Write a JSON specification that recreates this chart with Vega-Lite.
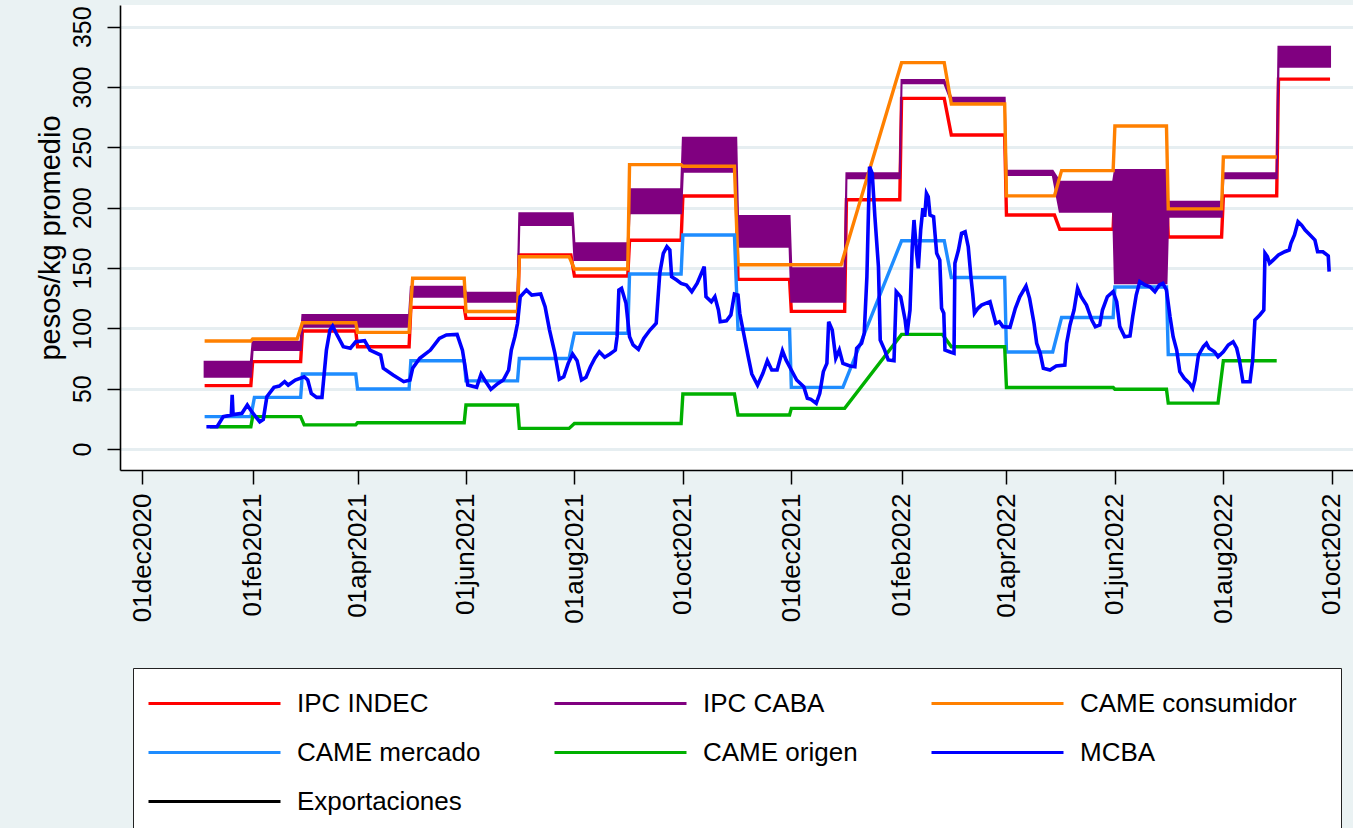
{
  "$schema": "https://vega.github.io/schema/vega-lite/v6.json",
  "width": 1233,
  "height": 465,
  "autosize": {"type": "none"},
  "padding": {"left": 120, "top": 5, "right": 0, "bottom": 358},
  "background": "#EAF2F3",
  "config": {
    "view": {"fill": "white", "stroke": null},
    "font": "Liberation Sans",
    "axis": {
      "labelFont": "Liberation Sans",
      "titleFont": "Liberation Sans",
      "labelColor": "#000000",
      "titleColor": "#000000",
      "domainColor": "#000000",
      "tickColor": "#000000",
      "domainWidth": 1.6,
      "tickWidth": 1.5,
      "titleFontWeight": "normal"
    }
  },
  "data": {
    "values": [
      {"s":"IPC INDEC","d":"2021-01-05","v":52.5},{"s":"IPC INDEC","d":"2021-01-31","v":52.5},
      {"s":"IPC INDEC","d":"2021-02-01","v":72.4},{"s":"IPC INDEC","d":"2021-02-28","v":72.4},
      {"s":"IPC INDEC","d":"2021-03-01","v":97.8},{"s":"IPC INDEC","d":"2021-03-31","v":97.8},
      {"s":"IPC INDEC","d":"2021-04-01","v":84.8},{"s":"IPC INDEC","d":"2021-04-30","v":84.8},
      {"s":"IPC INDEC","d":"2021-05-01","v":117.4},{"s":"IPC INDEC","d":"2021-05-31","v":117.4},
      {"s":"IPC INDEC","d":"2021-06-01","v":108.3},{"s":"IPC INDEC","d":"2021-06-30","v":108.3},
      {"s":"IPC INDEC","d":"2021-07-01","v":160.8},{"s":"IPC INDEC","d":"2021-07-30","v":160.8},
      {"s":"IPC INDEC","d":"2021-08-01","v":143.4},{"s":"IPC INDEC","d":"2021-08-31","v":143.4},
      {"s":"IPC INDEC","d":"2021-09-01","v":173},{"s":"IPC INDEC","d":"2021-09-30","v":173},
      {"s":"IPC INDEC","d":"2021-10-01","v":209.7},{"s":"IPC INDEC","d":"2021-10-31","v":209.7},
      {"s":"IPC INDEC","d":"2021-11-01","v":140.6},{"s":"IPC INDEC","d":"2021-11-30","v":140.6},
      {"s":"IPC INDEC","d":"2021-12-01","v":114.1},{"s":"IPC INDEC","d":"2021-12-31","v":114.1},
      {"s":"IPC INDEC","d":"2022-01-01","v":206.6},{"s":"IPC INDEC","d":"2022-01-31","v":206.6},
      {"s":"IPC INDEC","d":"2022-02-01","v":290.6},{"s":"IPC INDEC","d":"2022-02-25","v":290.6},
      {"s":"IPC INDEC","d":"2022-03-01","v":260.2},{"s":"IPC INDEC","d":"2022-03-31","v":260.2},
      {"s":"IPC INDEC","d":"2022-04-01","v":193.9},{"s":"IPC INDEC","d":"2022-04-28","v":193.9},
      {"s":"IPC INDEC","d":"2022-05-01","v":182.1},{"s":"IPC INDEC","d":"2022-05-31","v":182.1},
      {"s":"IPC INDEC","d":"2022-06-01","v":218.5},{"s":"IPC INDEC","d":"2022-06-30","v":218.5},
      {"s":"IPC INDEC","d":"2022-07-01","v":175.7},{"s":"IPC INDEC","d":"2022-07-31","v":175.7},
      {"s":"IPC INDEC","d":"2022-08-01","v":209.8},{"s":"IPC INDEC","d":"2022-08-31","v":209.8},
      {"s":"IPC INDEC","d":"2022-09-01","v":306.6},{"s":"IPC INDEC","d":"2022-09-30","v":306.6},

      {"s":"IPC CABA","d":"2021-01-05","v":59.9,"hi":72.4},{"s":"IPC CABA","d":"2021-01-31","v":59.9,"hi":72.4},
      {"s":"IPC CABA","d":"2021-02-01","v":82,"hi":88.9},{"s":"IPC CABA","d":"2021-02-28","v":82,"hi":88.9},
      {"s":"IPC CABA","d":"2021-03-01","v":101.4,"hi":111},{"s":"IPC CABA","d":"2021-04-30","v":101.4,"hi":111},
      {"s":"IPC CABA","d":"2021-05-01","v":126.2,"hi":134.5},{"s":"IPC CABA","d":"2021-05-31","v":126.2,"hi":134.5},
      {"s":"IPC CABA","d":"2021-06-01","v":122.1,"hi":129.5},{"s":"IPC CABA","d":"2021-06-30","v":122.1,"hi":129.5},
      {"s":"IPC CABA","d":"2021-07-01","v":185.6,"hi":195.3},{"s":"IPC CABA","d":"2021-07-31","v":185.6,"hi":195.3},
      {"s":"IPC CABA","d":"2021-08-01","v":156.6,"hi":170.5},{"s":"IPC CABA","d":"2021-08-31","v":156.6,"hi":170.5},
      {"s":"IPC CABA","d":"2021-09-01","v":195.3,"hi":215.2},{"s":"IPC CABA","d":"2021-09-30","v":195.3,"hi":215.2},
      {"s":"IPC CABA","d":"2021-10-01","v":229.8,"hi":258},{"s":"IPC CABA","d":"2021-10-31","v":229.8,"hi":258},
      {"s":"IPC CABA","d":"2021-11-01","v":167.7,"hi":193.1},{"s":"IPC CABA","d":"2021-11-30","v":167.7,"hi":193.1},
      {"s":"IPC CABA","d":"2021-12-01","v":122.1,"hi":149.8},{"s":"IPC CABA","d":"2021-12-31","v":122.1,"hi":149.8},
      {"s":"IPC CABA","d":"2022-01-01","v":224.4,"hi":228.5},{"s":"IPC CABA","d":"2022-01-31","v":224.4,"hi":228.5},
      {"s":"IPC CABA","d":"2022-02-01","v":303.1,"hi":305.8},{"s":"IPC CABA","d":"2022-02-25","v":303.1,"hi":305.8},
      {"s":"IPC CABA","d":"2022-03-01","v":287.8,"hi":291.2},{"s":"IPC CABA","d":"2022-03-31","v":287.8,"hi":291.2},
      {"s":"IPC CABA","d":"2022-04-01","v":227.1,"hi":230.7},{"s":"IPC CABA","d":"2022-04-27","v":227.1,"hi":230.7},
      {"s":"IPC CABA","d":"2022-05-01","v":196.7,"hi":221.5},{"s":"IPC CABA","d":"2022-05-31","v":196.7,"hi":221.5},
      {"s":"IPC CABA","d":"2022-06-01","v":137.3,"hi":231.2},{"s":"IPC CABA","d":"2022-06-30","v":137.3,"hi":231.2},
      {"s":"IPC CABA","d":"2022-07-01","v":192.5,"hi":204.9},{"s":"IPC CABA","d":"2022-07-31","v":192.5,"hi":204.9},
      {"s":"IPC CABA","d":"2022-08-01","v":224.4,"hi":228.5},{"s":"IPC CABA","d":"2022-08-31","v":224.4,"hi":228.5},
      {"s":"IPC CABA","d":"2022-09-01","v":316.8,"hi":333.4},{"s":"IPC CABA","d":"2022-09-30","v":316.8,"hi":333.4},

      {"s":"CAME consumidor","d":"2021-01-05","v":89.5},{"s":"CAME consumidor","d":"2021-01-31","v":89.5},
      {"s":"CAME consumidor","d":"2021-02-01","v":91.2},{"s":"CAME consumidor","d":"2021-02-26","v":91.2},
      {"s":"CAME consumidor","d":"2021-03-01","v":104.7},{"s":"CAME consumidor","d":"2021-03-31","v":104.7},
      {"s":"CAME consumidor","d":"2021-04-01","v":96.7},{"s":"CAME consumidor","d":"2021-04-30","v":96.7},
      {"s":"CAME consumidor","d":"2021-05-02","v":141.5},{"s":"CAME consumidor","d":"2021-05-31","v":141.5},
      {"s":"CAME consumidor","d":"2021-06-01","v":114},{"s":"CAME consumidor","d":"2021-06-30","v":114},
      {"s":"CAME consumidor","d":"2021-07-01","v":159.4},{"s":"CAME consumidor","d":"2021-07-29","v":159.4},
      {"s":"CAME consumidor","d":"2021-08-01","v":149.2},{"s":"CAME consumidor","d":"2021-08-31","v":149.2},
      {"s":"CAME consumidor","d":"2021-09-01","v":235.7},{"s":"CAME consumidor","d":"2021-09-30","v":235.7},
      {"s":"CAME consumidor","d":"2021-10-01","v":234.3},{"s":"CAME consumidor","d":"2021-10-30","v":234.3},
      {"s":"CAME consumidor","d":"2021-11-01","v":152.7},{"s":"CAME consumidor","d":"2021-12-29","v":152.7},
      {"s":"CAME consumidor","d":"2022-02-01","v":320.2},{"s":"CAME consumidor","d":"2022-02-25","v":320.2},
      {"s":"CAME consumidor","d":"2022-03-01","v":285.9},{"s":"CAME consumidor","d":"2022-03-31","v":285.9},
      {"s":"CAME consumidor","d":"2022-04-01","v":209.8},{"s":"CAME consumidor","d":"2022-04-28","v":209.8},
      {"s":"CAME consumidor","d":"2022-05-02","v":230.7},{"s":"CAME consumidor","d":"2022-05-31","v":230.7},
      {"s":"CAME consumidor","d":"2022-06-01","v":267.7},{"s":"CAME consumidor","d":"2022-06-30","v":267.7},
      {"s":"CAME consumidor","d":"2022-07-01","v":199},{"s":"CAME consumidor","d":"2022-07-31","v":199},
      {"s":"CAME consumidor","d":"2022-08-01","v":242},{"s":"CAME consumidor","d":"2022-08-31","v":242},

      {"s":"CAME mercado","d":"2021-01-05","v":26.8},{"s":"CAME mercado","d":"2021-01-31","v":26.8},
      {"s":"CAME mercado","d":"2021-02-02","v":42.8},{"s":"CAME mercado","d":"2021-02-28","v":42.8},
      {"s":"CAME mercado","d":"2021-03-01","v":62.2},{"s":"CAME mercado","d":"2021-03-31","v":62.2},
      {"s":"CAME mercado","d":"2021-04-01","v":49.7},{"s":"CAME mercado","d":"2021-04-30","v":49.7},
      {"s":"CAME mercado","d":"2021-05-01","v":73.2},{"s":"CAME mercado","d":"2021-05-31","v":73.2},
      {"s":"CAME mercado","d":"2021-06-01","v":56.5},{"s":"CAME mercado","d":"2021-06-30","v":56.5},
      {"s":"CAME mercado","d":"2021-07-01","v":75},{"s":"CAME mercado","d":"2021-07-29","v":75},
      {"s":"CAME mercado","d":"2021-08-01","v":96},{"s":"CAME mercado","d":"2021-08-31","v":96},
      {"s":"CAME mercado","d":"2021-09-01","v":145},{"s":"CAME mercado","d":"2021-09-30","v":145},
      {"s":"CAME mercado","d":"2021-10-01","v":177.4},{"s":"CAME mercado","d":"2021-10-30","v":177.4},
      {"s":"CAME mercado","d":"2021-11-01","v":99.3},{"s":"CAME mercado","d":"2021-11-30","v":99.3},
      {"s":"CAME mercado","d":"2021-12-01","v":51.1},{"s":"CAME mercado","d":"2021-12-30","v":51.1},
      {"s":"CAME mercado","d":"2022-02-01","v":172.6},{"s":"CAME mercado","d":"2022-02-25","v":172.6},
      {"s":"CAME mercado","d":"2022-03-01","v":142.2},{"s":"CAME mercado","d":"2022-03-31","v":142.2},
      {"s":"CAME mercado","d":"2022-04-01","v":80.4},{"s":"CAME mercado","d":"2022-04-27","v":80.4},
      {"s":"CAME mercado","d":"2022-05-02","v":109},{"s":"CAME mercado","d":"2022-05-31","v":109},
      {"s":"CAME mercado","d":"2022-06-01","v":134.3},{"s":"CAME mercado","d":"2022-06-30","v":134.3},
      {"s":"CAME mercado","d":"2022-07-01","v":78.2},{"s":"CAME mercado","d":"2022-07-31","v":78.2},

      {"s":"CAME origen","d":"2021-01-08","v":18.5},{"s":"CAME origen","d":"2021-01-31","v":18.5},
      {"s":"CAME origen","d":"2021-02-01","v":26.8},{"s":"CAME origen","d":"2021-02-28","v":26.8},
      {"s":"CAME origen","d":"2021-03-02","v":20},{"s":"CAME origen","d":"2021-03-31","v":20},
      {"s":"CAME origen","d":"2021-04-01","v":21.8},{"s":"CAME origen","d":"2021-05-31","v":21.8},
      {"s":"CAME origen","d":"2021-06-01","v":36.5},{"s":"CAME origen","d":"2021-06-30","v":36.5},
      {"s":"CAME origen","d":"2021-07-01","v":17.1},{"s":"CAME origen","d":"2021-07-29","v":17.1},
      {"s":"CAME origen","d":"2021-08-01","v":21.2},{"s":"CAME origen","d":"2021-09-30","v":21.2},
      {"s":"CAME origen","d":"2021-10-01","v":45.6},{"s":"CAME origen","d":"2021-10-30","v":45.6},
      {"s":"CAME origen","d":"2021-11-01","v":28.2},{"s":"CAME origen","d":"2021-11-30","v":28.2},
      {"s":"CAME origen","d":"2021-12-01","v":33.7},{"s":"CAME origen","d":"2021-12-31","v":33.7},
      {"s":"CAME origen","d":"2022-02-01","v":95},{"s":"CAME origen","d":"2022-02-24","v":95},
      {"s":"CAME origen","d":"2022-03-01","v":84.8},{"s":"CAME origen","d":"2022-03-31","v":84.8},
      {"s":"CAME origen","d":"2022-04-01","v":51},{"s":"CAME origen","d":"2022-05-31","v":51},
      {"s":"CAME origen","d":"2022-06-01","v":49.5},{"s":"CAME origen","d":"2022-06-30","v":49.5},
      {"s":"CAME origen","d":"2022-07-01","v":38},{"s":"CAME origen","d":"2022-07-29","v":38},
      {"s":"CAME origen","d":"2022-08-01","v":73.2},{"s":"CAME origen","d":"2022-08-31","v":73.2},

      {"s":"MCBA","d":"2021-01-06","v":18.5},{"s":"MCBA","d":"2021-01-12","v":18.5},{"s":"MCBA","d":"2021-01-15T12:00Z","v":26.8},
      {"s":"MCBA","d":"2021-01-20","v":28.2},{"s":"MCBA","d":"2021-01-20T12:00Z","v":44.8},{"s":"MCBA","d":"2021-01-21","v":28.5},
      {"s":"MCBA","d":"2021-01-26","v":29.6},{"s":"MCBA","d":"2021-01-29","v":36.5},{"s":"MCBA","d":"2021-01-31T12:00Z","v":30.9},
      {"s":"MCBA","d":"2021-02-05","v":22.6},{"s":"MCBA","d":"2021-02-07","v":24.6},{"s":"MCBA","d":"2021-02-09","v":43.3},
      {"s":"MCBA","d":"2021-02-13","v":51.1},{"s":"MCBA","d":"2021-02-16","v":52.2},{"s":"MCBA","d":"2021-02-19","v":55.8},
      {"s":"MCBA","d":"2021-02-21","v":53},{"s":"MCBA","d":"2021-02-25","v":57.2},
      {"s":"MCBA","d":"2021-03-02","v":59.9},{"s":"MCBA","d":"2021-03-04","v":57.2},{"s":"MCBA","d":"2021-03-06","v":46.1},
      {"s":"MCBA","d":"2021-03-09","v":42.8},{"s":"MCBA","d":"2021-03-12","v":42.8},{"s":"MCBA","d":"2021-03-14T12:00Z","v":82},
      {"s":"MCBA","d":"2021-03-16T12:00Z","v":98.6},{"s":"MCBA","d":"2021-03-18","v":101.9},{"s":"MCBA","d":"2021-03-20","v":95.9},
      {"s":"MCBA","d":"2021-03-24","v":84.8},{"s":"MCBA","d":"2021-03-28","v":83.5},{"s":"MCBA","d":"2021-03-31","v":88.9},
      {"s":"MCBA","d":"2021-04-05","v":89.8},{"s":"MCBA","d":"2021-04-08","v":82},{"s":"MCBA","d":"2021-04-14","v":77.9},
      {"s":"MCBA","d":"2021-04-15T12:00Z","v":66.9},{"s":"MCBA","d":"2021-04-21","v":61.3},{"s":"MCBA","d":"2021-04-27","v":55.8},
      {"s":"MCBA","d":"2021-04-30T12:00Z","v":57.2},
      {"s":"MCBA","d":"2021-05-02","v":66.9},{"s":"MCBA","d":"2021-05-06","v":75.2},{"s":"MCBA","d":"2021-05-12","v":82},
      {"s":"MCBA","d":"2021-05-17","v":91.7},{"s":"MCBA","d":"2021-05-21","v":94.5},{"s":"MCBA","d":"2021-05-27","v":95},
      {"s":"MCBA","d":"2021-05-30","v":82},{"s":"MCBA","d":"2021-05-31T12:00Z","v":68.2},
      {"s":"MCBA","d":"2021-06-02","v":53},{"s":"MCBA","d":"2021-06-07","v":51.1},{"s":"MCBA","d":"2021-06-09T12:00Z","v":62.2},
      {"s":"MCBA","d":"2021-06-11T12:00Z","v":57.2},{"s":"MCBA","d":"2021-06-15","v":49.5},{"s":"MCBA","d":"2021-06-19","v":54.4},
      {"s":"MCBA","d":"2021-06-22","v":57.2},{"s":"MCBA","d":"2021-06-25","v":65.5},{"s":"MCBA","d":"2021-06-26T12:00Z","v":82},
      {"s":"MCBA","d":"2021-06-28T12:00Z","v":93.1},{"s":"MCBA","d":"2021-06-30","v":104.2},
      {"s":"MCBA","d":"2021-07-01T12:00Z","v":126.2},{"s":"MCBA","d":"2021-07-05","v":131.8},{"s":"MCBA","d":"2021-07-08","v":127.6},
      {"s":"MCBA","d":"2021-07-13","v":128.5},{"s":"MCBA","d":"2021-07-15T12:00Z","v":117.9},{"s":"MCBA","d":"2021-07-18","v":98.6},
      {"s":"MCBA","d":"2021-07-21","v":79.3},{"s":"MCBA","d":"2021-07-23T12:00Z","v":57.8},{"s":"MCBA","d":"2021-07-26","v":59.9},
      {"s":"MCBA","d":"2021-07-28T12:00Z","v":71},{"s":"MCBA","d":"2021-07-31","v":78.7},
      {"s":"MCBA","d":"2021-08-02T12:00Z","v":73.2},{"s":"MCBA","d":"2021-08-05","v":57.2},{"s":"MCBA","d":"2021-08-07T12:00Z","v":59.4},
      {"s":"MCBA","d":"2021-08-10","v":68.2},{"s":"MCBA","d":"2021-08-12T12:00Z","v":75.2},{"s":"MCBA","d":"2021-08-15","v":80.6},
      {"s":"MCBA","d":"2021-08-18","v":76},{"s":"MCBA","d":"2021-08-21","v":78.7},{"s":"MCBA","d":"2021-08-24","v":82},
      {"s":"MCBA","d":"2021-08-25","v":93.1},{"s":"MCBA","d":"2021-08-26","v":131.8},{"s":"MCBA","d":"2021-08-27T12:00Z","v":133.2},
      {"s":"MCBA","d":"2021-08-30","v":120.8},
      {"s":"MCBA","d":"2021-09-01","v":93.1},{"s":"MCBA","d":"2021-09-03","v":86.2},{"s":"MCBA","d":"2021-09-06","v":82.6},
      {"s":"MCBA","d":"2021-09-09","v":91.7},{"s":"MCBA","d":"2021-09-12T12:00Z","v":98.6},{"s":"MCBA","d":"2021-09-16","v":104.2},
      {"s":"MCBA","d":"2021-09-18","v":145.6},{"s":"MCBA","d":"2021-09-20","v":162.2},{"s":"MCBA","d":"2021-09-22","v":167.7},
      {"s":"MCBA","d":"2021-09-23T16:00Z","v":164.9},{"s":"MCBA","d":"2021-09-24T16:00Z","v":142.8},{"s":"MCBA","d":"2021-09-27T12:00Z","v":140.1},
      {"s":"MCBA","d":"2021-09-30","v":137.3},
      {"s":"MCBA","d":"2021-10-03","v":135.9},{"s":"MCBA","d":"2021-10-06","v":130.4},{"s":"MCBA","d":"2021-10-09","v":137.3},
      {"s":"MCBA","d":"2021-10-13","v":151.1},{"s":"MCBA","d":"2021-10-14","v":126.2},{"s":"MCBA","d":"2021-10-17","v":122.1},
      {"s":"MCBA","d":"2021-10-19","v":126.2},{"s":"MCBA","d":"2021-10-21","v":115.2},{"s":"MCBA","d":"2021-10-22","v":105.5},
      {"s":"MCBA","d":"2021-10-25T12:00Z","v":106.3},{"s":"MCBA","d":"2021-10-28","v":111.1},{"s":"MCBA","d":"2021-10-30","v":128.5},
      {"s":"MCBA","d":"2021-11-01","v":127.6},{"s":"MCBA","d":"2021-11-02","v":112.5},{"s":"MCBA","d":"2021-11-04","v":97.2},
      {"s":"MCBA","d":"2021-11-06T18:00Z","v":76.5},{"s":"MCBA","d":"2021-11-08T18:00Z","v":62.2},{"s":"MCBA","d":"2021-11-12","v":53},
      {"s":"MCBA","d":"2021-11-15","v":62.7},{"s":"MCBA","d":"2021-11-17T12:00Z","v":73.2},{"s":"MCBA","d":"2021-11-20","v":65.5},
      {"s":"MCBA","d":"2021-11-23","v":65.5},{"s":"MCBA","d":"2021-11-26","v":81.5},{"s":"MCBA","d":"2021-11-28","v":73.8},
      {"s":"MCBA","d":"2021-12-01","v":65.5},{"s":"MCBA","d":"2021-12-04","v":57.2},{"s":"MCBA","d":"2021-12-08","v":51.6},
      {"s":"MCBA","d":"2021-12-10","v":42},{"s":"MCBA","d":"2021-12-12","v":41.2},{"s":"MCBA","d":"2021-12-15","v":37.9},
      {"s":"MCBA","d":"2021-12-17","v":46.1},{"s":"MCBA","d":"2021-12-19","v":64.1},{"s":"MCBA","d":"2021-12-21","v":71},
      {"s":"MCBA","d":"2021-12-22","v":105.5},{"s":"MCBA","d":"2021-12-24","v":98.6},{"s":"MCBA","d":"2021-12-26","v":75.2},
      {"s":"MCBA","d":"2021-12-28","v":82},{"s":"MCBA","d":"2021-12-30","v":71},
      {"s":"MCBA","d":"2022-01-03","v":68.8},{"s":"MCBA","d":"2022-01-05T18:00Z","v":68.2},{"s":"MCBA","d":"2022-01-06T18:00Z","v":83.5},
      {"s":"MCBA","d":"2022-01-09T12:00Z","v":87.6},{"s":"MCBA","d":"2022-01-11","v":95.9},{"s":"MCBA","d":"2022-01-12T12:00Z","v":142.8},
      {"s":"MCBA","d":"2022-01-14","v":234},{"s":"MCBA","d":"2022-01-15T12:00Z","v":228.5},{"s":"MCBA","d":"2022-01-17","v":192.5},
      {"s":"MCBA","d":"2022-01-19","v":151.1},{"s":"MCBA","d":"2022-01-20","v":90.3},{"s":"MCBA","d":"2022-01-22T12:00Z","v":82},
      {"s":"MCBA","d":"2022-01-24T12:00Z","v":73.8},{"s":"MCBA","d":"2022-01-27T18:00Z","v":73.2},{"s":"MCBA","d":"2022-01-29","v":130.4},
      {"s":"MCBA","d":"2022-01-31T12:00Z","v":126.2},
      {"s":"MCBA","d":"2022-02-03","v":106.9},{"s":"MCBA","d":"2022-02-04","v":94.5},{"s":"MCBA","d":"2022-02-05T18:00Z","v":115.2},
      {"s":"MCBA","d":"2022-02-07","v":167.7},{"s":"MCBA","d":"2022-02-08","v":189.8},{"s":"MCBA","d":"2022-02-09T12:00Z","v":162.2},
      {"s":"MCBA","d":"2022-02-10T10:00Z","v":149.8},{"s":"MCBA","d":"2022-02-11T18:00Z","v":181.5},{"s":"MCBA","d":"2022-02-13","v":199.5},
      {"s":"MCBA","d":"2022-02-14","v":192.5},{"s":"MCBA","d":"2022-02-15","v":211.9},{"s":"MCBA","d":"2022-02-16","v":209.1},
      {"s":"MCBA","d":"2022-02-17","v":193.9},{"s":"MCBA","d":"2022-02-19","v":192.5},{"s":"MCBA","d":"2022-02-20T18:00Z","v":162.2},
      {"s":"MCBA","d":"2022-02-22T12:00Z","v":156.6},{"s":"MCBA","d":"2022-02-23T12:00Z","v":116.6},{"s":"MCBA","d":"2022-02-24T18:00Z","v":112.5},
      {"s":"MCBA","d":"2022-02-25T10:00Z","v":82},{"s":"MCBA","d":"2022-02-28","v":80.6},
      {"s":"MCBA","d":"2022-03-02T12:00Z","v":79.3},{"s":"MCBA","d":"2022-03-03","v":153.9},{"s":"MCBA","d":"2022-03-05","v":164.9},
      {"s":"MCBA","d":"2022-03-06T18:00Z","v":178.8},{"s":"MCBA","d":"2022-03-08T18:00Z","v":180.1},{"s":"MCBA","d":"2022-03-10T12:00Z","v":167.7},
      {"s":"MCBA","d":"2022-03-12","v":142.8},{"s":"MCBA","d":"2022-03-13","v":129},{"s":"MCBA","d":"2022-03-14","v":112.5},
      {"s":"MCBA","d":"2022-03-16","v":116.6},{"s":"MCBA","d":"2022-03-18","v":119.3},{"s":"MCBA","d":"2022-03-22T18:00Z","v":122.1},
      {"s":"MCBA","d":"2022-03-24T12:00Z","v":112.5},{"s":"MCBA","d":"2022-03-26","v":104.2},{"s":"MCBA","d":"2022-03-28","v":105.5},
      {"s":"MCBA","d":"2022-03-30","v":101.4},
      {"s":"MCBA","d":"2022-04-03","v":100.9},{"s":"MCBA","d":"2022-04-06","v":116.6},{"s":"MCBA","d":"2022-04-08T12:00Z","v":126.2},
      {"s":"MCBA","d":"2022-04-12","v":135.1},{"s":"MCBA","d":"2022-04-14","v":124.9},{"s":"MCBA","d":"2022-04-16T12:00Z","v":104.2},
      {"s":"MCBA","d":"2022-04-18","v":87.6},{"s":"MCBA","d":"2022-04-20","v":79.3},{"s":"MCBA","d":"2022-04-21T18:00Z","v":66.9},
      {"s":"MCBA","d":"2022-04-25T12:00Z","v":65.5},{"s":"MCBA","d":"2022-04-29","v":68.8},
      {"s":"MCBA","d":"2022-05-03T20:00Z","v":69.6},{"s":"MCBA","d":"2022-05-04T20:00Z","v":87.6},{"s":"MCBA","d":"2022-05-06T18:00Z","v":102.8},
      {"s":"MCBA","d":"2022-05-09","v":115.2},{"s":"MCBA","d":"2022-05-11","v":133.2},{"s":"MCBA","d":"2022-05-13","v":126.2},
      {"s":"MCBA","d":"2022-05-16","v":119.3},{"s":"MCBA","d":"2022-05-19","v":106.9},{"s":"MCBA","d":"2022-05-21","v":101.4},
      {"s":"MCBA","d":"2022-05-23T12:00Z","v":102.8},{"s":"MCBA","d":"2022-05-25","v":115.2},{"s":"MCBA","d":"2022-05-27T18:00Z","v":126.2},
      {"s":"MCBA","d":"2022-05-31","v":130.4},
      {"s":"MCBA","d":"2022-06-02","v":122.1},{"s":"MCBA","d":"2022-06-03T18:00Z","v":101.4},{"s":"MCBA","d":"2022-06-06T12:00Z","v":93.1},
      {"s":"MCBA","d":"2022-06-09T12:00Z","v":93.7},{"s":"MCBA","d":"2022-06-11","v":109.6},{"s":"MCBA","d":"2022-06-13","v":127.6},
      {"s":"MCBA","d":"2022-06-15","v":138.7},{"s":"MCBA","d":"2022-06-18","v":135.9},{"s":"MCBA","d":"2022-06-20T18:00Z","v":134.5},
      {"s":"MCBA","d":"2022-06-23T12:00Z","v":130.4},{"s":"MCBA","d":"2022-06-26","v":135.9},{"s":"MCBA","d":"2022-06-28","v":137.3},
      {"s":"MCBA","d":"2022-06-30","v":131.8},
      {"s":"MCBA","d":"2022-07-02","v":109.6},{"s":"MCBA","d":"2022-07-03T18:00Z","v":93.1},{"s":"MCBA","d":"2022-07-05T18:00Z","v":82},
      {"s":"MCBA","d":"2022-07-07T12:00Z","v":64.1},{"s":"MCBA","d":"2022-07-10","v":58.6},{"s":"MCBA","d":"2022-07-13","v":54.4},
      {"s":"MCBA","d":"2022-07-14T18:00Z","v":50.3},{"s":"MCBA","d":"2022-07-16","v":57.2},{"s":"MCBA","d":"2022-07-18","v":77.9},
      {"s":"MCBA","d":"2022-07-20T18:00Z","v":84.8},{"s":"MCBA","d":"2022-07-22T12:00Z","v":87.6},{"s":"MCBA","d":"2022-07-24","v":83.5},
      {"s":"MCBA","d":"2022-07-27","v":80.6},{"s":"MCBA","d":"2022-07-29","v":76.5},
      {"s":"MCBA","d":"2022-08-01","v":80.6},{"s":"MCBA","d":"2022-08-03T18:00Z","v":86.2},{"s":"MCBA","d":"2022-08-06T12:00Z","v":88.9},
      {"s":"MCBA","d":"2022-08-08T12:00Z","v":83.5},{"s":"MCBA","d":"2022-08-10","v":73.8},{"s":"MCBA","d":"2022-08-12","v":55.8},
      {"s":"MCBA","d":"2022-08-16","v":55.8},{"s":"MCBA","d":"2022-08-17T12:00Z","v":73.8},{"s":"MCBA","d":"2022-08-18T18:00Z","v":106.9},
      {"s":"MCBA","d":"2022-08-21T12:00Z","v":111.1},{"s":"MCBA","d":"2022-08-23T18:00Z","v":115.2},{"s":"MCBA","d":"2022-08-24T10:00Z","v":162.2},
      {"s":"MCBA","d":"2022-08-25T18:00Z","v":159.4},{"s":"MCBA","d":"2022-08-27","v":153.9},{"s":"MCBA","d":"2022-08-29","v":156.6},
      {"s":"MCBA","d":"2022-09-01","v":160.8},{"s":"MCBA","d":"2022-09-04T12:00Z","v":163.5},{"s":"MCBA","d":"2022-09-07","v":164.9},
      {"s":"MCBA","d":"2022-09-08","v":170.5},{"s":"MCBA","d":"2022-09-10","v":177.4},{"s":"MCBA","d":"2022-09-12","v":188.4},
      {"s":"MCBA","d":"2022-09-14","v":185.6},{"s":"MCBA","d":"2022-09-16","v":181.5},{"s":"MCBA","d":"2022-09-18T18:00Z","v":177.4},
      {"s":"MCBA","d":"2022-09-21T12:00Z","v":173.2},{"s":"MCBA","d":"2022-09-23","v":163.5},{"s":"MCBA","d":"2022-09-26","v":163.5},
      {"s":"MCBA","d":"2022-09-29","v":160},{"s":"MCBA","d":"2022-09-29T12:00Z","v":147}
    ]
  },
  "encoding": {
    "x": {
      "field": "d", "type": "temporal", "title": null,
      "scale": {"type": "utc", "nice": false,
        "domain": [{"year": 2020, "month": 11, "date": 18, "hours": 9, "minutes": 36, "utc": true},
                   {"year": 2022, "month": 10, "date": 12, "hours": 22, "utc": true}]},
      "axis": {
        "values": [
          {"year": 2020, "month": 12, "date": 1, "utc": true},
          {"year": 2021, "month": 2, "date": 1, "utc": true},
          {"year": 2021, "month": 4, "date": 1, "utc": true},
          {"year": 2021, "month": 6, "date": 1, "utc": true},
          {"year": 2021, "month": 8, "date": 1, "utc": true},
          {"year": 2021, "month": 10, "date": 1, "utc": true},
          {"year": 2021, "month": 12, "date": 1, "utc": true},
          {"year": 2022, "month": 2, "date": 1, "utc": true},
          {"year": 2022, "month": 4, "date": 1, "utc": true},
          {"year": 2022, "month": 6, "date": 1, "utc": true},
          {"year": 2022, "month": 8, "date": 1, "utc": true},
          {"year": 2022, "month": 10, "date": 1, "utc": true}
        ],
        "labelExpr": "lower(utcFormat(datum.value, '%d%b%Y'))",
        "grid": false,
        "labelAngle": 270,
        "labelAlign": "right",
        "labelBaseline": "middle",
        "labelFontSize": 26,
        "labelPadding": 9,
        "tickSize": 14,
        "labelOverlap": false,
        "labelFlush": false
      }
    },
    "y": {
      "field": "v", "type": "quantitative", "title": "pesos/kg promedio",
      "scale": {"domain": [-17.4, 368], "nice": false, "zero": false},
      "axis": {
        "values": [0, 50, 100, 150, 200, 250, 300, 350],
        "grid": true,
        "gridColor": "#E6EEF1",
        "gridWidth": 3,
        "labelAngle": 270,
        "labelAlign": "center",
        "labelBaseline": "alphabetic",
        "labelFontSize": 25,
        "labelPadding": 17,
        "tickSize": 13,
        "labelOverlap": false,
        "titleFontSize": 29,
        "titleAngle": 270,
        "titleAlign": "center",
        "titleBaseline": "alphabetic",
        "titleX": -61,
        "titleY": 232.5
      }
    }
  },
  "layer": [
    {
      "transform": [{"filter": "datum.s === 'IPC INDEC'"}],
      "mark": {"type": "line", "strokeWidth": 3.4},
      "encoding": {
        "color": {"field": "s", "type": "nominal",
          "scale": {"domain": ["IPC INDEC", "IPC CABA", "CAME consumidor", "CAME mercado", "CAME origen", "MCBA", "Exportaciones"],
                    "range": ["#FF0000", "#800080", "#FF8000", "#1E8CFF", "#00B000", "#0000FF", "#000000"]},
          "legend": {"orient": "none", "legendX": 13, "legendY": 663, "columns": 3, "direction": "horizontal",
            "title": "\u00a0", "titleOrient": "right", "titleFontSize": 1, "titlePadding": 30,
            "symbolType": "stroke", "symbolSize": 17424, "symbolStrokeWidth": 3, "symbolOffset": 0,
            "labelFont": "Liberation Sans", "labelFontSize": 26, "labelColor": "#000000", "labelOffset": 15, "labelLimit": 400,
            "columnPadding": 72, "rowPadding": 6, "clipHeight": 43, "padding": 14,
            "fillColor": "#FFFFFF", "strokeColor": "#222222"}}
      }
    },
    {
      "transform": [{"filter": "datum.s === 'IPC CABA'"}],
      "mark": {"type": "area", "fill": "#800080", "stroke": "#800080", "strokeWidth": 2, "opacity": 1},
      "encoding": {
        "y2": {"field": "hi"}
      }
    },
    {
      "transform": [{"filter": "datum.s === 'CAME consumidor' || datum.s === 'CAME mercado' || datum.s === 'CAME origen'"}],
      "mark": {"type": "line", "strokeWidth": 3.4},
      "encoding": {"color": {"field": "s", "type": "nominal"}}
    },
    {
      "transform": [{"filter": "datum.s === 'MCBA'"}],
      "mark": {"type": "line", "strokeWidth": 3.6},
      "encoding": {"color": {"field": "s", "type": "nominal"}}
    }
  ]
}
